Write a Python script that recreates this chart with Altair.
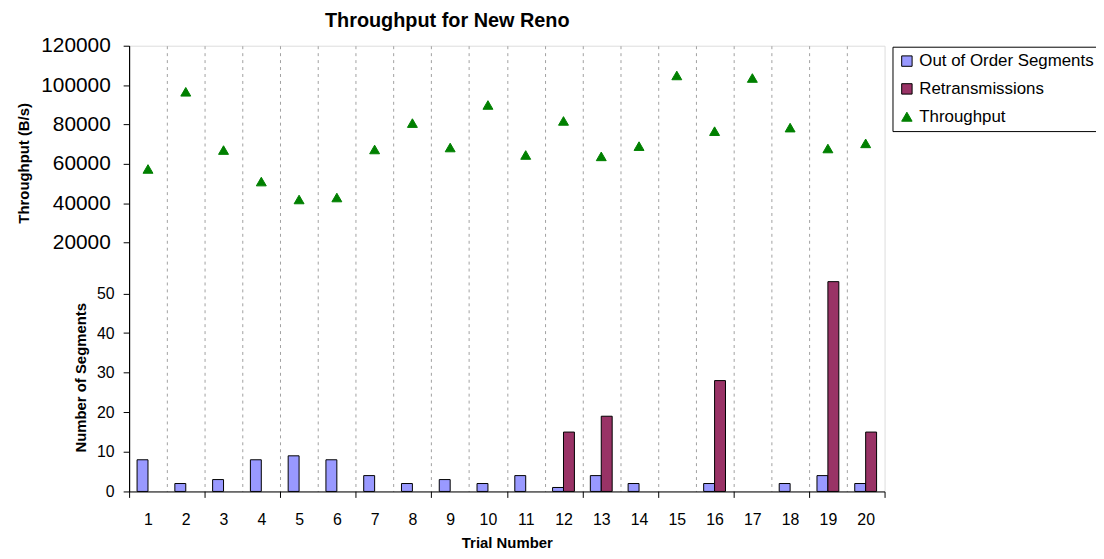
import altair as alt
import pandas as pd

FONT = "Liberation Sans"

trials = list(range(1, 21))
out_of_order = [8, 2, 3, 8, 9, 8, 4, 2, 3, 2, 4, 1, 4, 2, 0, 2, 0, 2, 4, 2]
retransmissions = [0, 0, 0, 0, 0, 0, 0, 0, 0, 0, 0, 15, 19, 0, 0, 28, 0, 0, 53, 15]
throughput = [57400, 96600, 67000, 51000, 41900, 42900, 67300, 80700, 68300, 89900,
              64500, 81800, 63800, 69000, 104900, 76600, 103600, 78400, 67800, 70400]

series_names = ["Out of Order Segments", "Retransmissions", "Throughput"]
series_fill = ["#9999ff", "#993366", "#008000"]
series_stroke = ["#000000", "#000000", "#008000"]
series_shape = ["square", "square", "triangle-up"]

x_tick_values = [0.5, 2.5, 4.5, 6.5, 8.5, 10.5, 12.5, 14.5, 16.5, 18.5, 20.5]
x_grid_values = [1.5, 2.5, 3.5, 4.5, 5.5, 6.5, 7.5, 8.5, 9.5, 10.5,
                 11.5, 12.5, 13.5, 14.5, 15.5, 16.5, 17.5, 18.5, 19.5]
throughput_ticks = [20000, 40000, 60000, 80000, 100000, 120000]
segment_ticks = [0, 10, 20, 30, 40, 50]

seg_df = pd.DataFrame({
    "trial": trials * 2,
    "series": [series_names[0]] * len(trials) + [series_names[1]] * len(trials),
    "value": out_of_order + retransmissions,
})
thr_df = pd.DataFrame({
    "trial": trials,
    "series": [series_names[2]] * len(trials),
    "value": throughput,
})

x_domain = [0.5, 20.5]
seg_domain = [0, 112.6]
thr_domain = [-106400, 120000]


def xscale():
    return alt.Scale(domain=x_domain, nice=False, zero=False, padding=0)


legend = alt.Legend(
    orient="none", legendX=769, legendY=1, title=None,
    strokeColor="black", fillColor="white", padding=6,
    labelFont=FONT, labelFontSize=17, labelColor="black", labelLimit=400,
    rowPadding=10, symbolSize=110, labelOffset=4,
    symbolStrokeWidth=1, symbolOpacity=1,
)

fill_enc = alt.Fill("series:N", scale=alt.Scale(domain=series_names, range=series_fill), legend=legend)
stroke_enc = alt.Stroke("series:N", scale=alt.Scale(domain=series_names, range=series_stroke), legend=legend)
shape_enc = alt.Shape("series:N", scale=alt.Scale(domain=series_names, range=series_shape), legend=legend)

bars_ooo = alt.Chart(seg_df).transform_filter(
    (alt.datum.series == series_names[0]) & (alt.datum.value > 0)
).mark_bar(orient="vertical", width=11, xOffset=-5.5, strokeWidth=1).encode(
    x=alt.X("trial:Q", scale=xscale(),
            axis=alt.Axis(orient="bottom", values=trials, grid=False, ticks=False,
                          domain=True, domainColor="black", labelFlush=False, format="d",
                          labelFont=FONT, labelFontSize=16, labelColor="black", labelPadding=20,
                          title="Trial Number", titleFont=FONT, titleFontSize=15,
                          titleFontWeight="bold", titleColor="black", titlePadding=8)),
    y=alt.Y("value:Q", scale=alt.Scale(domain=seg_domain, nice=False, zero=False),
            axis=alt.Axis(orient="left", values=segment_ticks, grid=False, ticks=True,
                          tickSize=6, tickColor="black", domain=True, domainColor="black",
                          format="d",
                          labelFont=FONT, labelFontSize=16, labelColor="black", labelPadding=9,
                          title="Number of Segments", titleFont=FONT, titleFontSize=15,
                          titleFontWeight="bold", titleColor="black", titleAngle=270,
                          titleAlign="center", titleBaseline="middle", titleX=-49, titleY=334)),
    fill=fill_enc,
    stroke=stroke_enc,
)

bars_re = alt.Chart(seg_df).transform_filter(
    (alt.datum.series == series_names[1]) & (alt.datum.value > 0)
).mark_bar(orient="vertical", width=11, xOffset=5.5, strokeWidth=1).encode(
    x=alt.X("trial:Q", scale=xscale(),
            axis=alt.Axis(orient="bottom", values=x_tick_values, grid=False, ticks=True,
                          tickSize=6, tickColor="black", labels=False, domain=False, title="")),
    y=alt.Y("value:Q", scale=alt.Scale(domain=seg_domain, nice=False, zero=False), axis=None),
    fill=fill_enc,
    stroke=stroke_enc,
)

points = alt.Chart(thr_df).mark_point(filled=True, size=100, opacity=1, strokeWidth=1).encode(
    x=alt.X("trial:Q", scale=xscale(),
            axis=alt.Axis(orient="bottom", values=x_grid_values, grid=True, gridDash=[3, 4],
                          gridColor="#a0a0a0", gridWidth=1, ticks=False, labels=False,
                          domain=False, title="")),
    y=alt.Y("value:Q", scale=alt.Scale(domain=thr_domain, nice=False, zero=False),
            axis=alt.Axis(orient="left", values=throughput_ticks, grid=False, ticks=True,
                          tickSize=6, tickColor="black", domain=True, domainColor="black",
                          format="d",
                          labelFont=FONT, labelFontSize=21, labelColor="black", labelPadding=13,
                          title="Throughput (B/s)", titleFont=FONT, titleFontSize=15,
                          titleFontWeight="bold", titleColor="black", titleAngle=270,
                          titleAlign="center", titleBaseline="middle", titleX=-106, titleY=118)),
    fill=fill_enc,
    stroke=stroke_enc,
    shape=shape_enc,
)

chart = alt.layer(points, bars_ooo, bars_re).resolve_scale(
    x="independent", y="independent"
).properties(
    width=761,
    height=449,
    padding={"left": 122, "top": 36, "right": 213, "bottom": 58},
    autosize=alt.AutoSizeParams(type="none"),
    title=alt.Title("Throughput for New Reno", font=FONT, fontSize=20, fontWeight="bold",
                    color="black", anchor="middle", frame="group", dx=-60, offset=4),
).configure_view(stroke="#a0a0a0", strokeWidth=1).configure(background="white")

chart.save("out.html", embed_options={"renderer": "svg", "actions": False})
